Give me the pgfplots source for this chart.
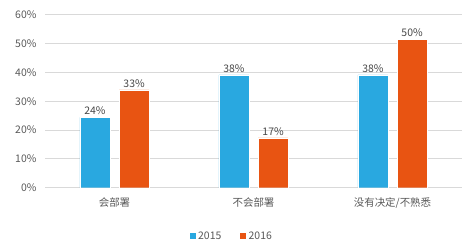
\documentclass[border=0pt]{standalone}
\usepackage{pgfplots}
\pgfplotsset{compat=1.18}
\usepackage{fontspec}
\setmainfont{Noto Sans CJK SC}
\definecolor{cblue}{HTML}{29A8E0}
\definecolor{corange}{HTML}{E85412}
\definecolor{gridc}{HTML}{D9D9D9}
\definecolor{txt}{HTML}{595959}
\begin{document}
\begin{tikzpicture}
\path[use as bounding box] (0bp,0bp) rectangle (467bp,248bp);
\begin{axis}[
  at={(45bp,60.3bp)}, anchor=south west,
  scale only axis, width=417bp, height=173bp,
  ybar, bar width=0.217,
  xmin=-0.5, xmax=2.5, ymin=0, ymax=60,
  xtick={0,1,2}, xticklabels={会部署,不会部署,没有决定/不熟悉},
  ytick={0,10,...,60},
  yticklabel={\pgfmathprintnumber{\tick}\%},
  /pgf/number format/assume math mode=true,
  ymajorgrids, grid style={gridc, line width=0.8pt},
  axis x line*=bottom, axis y line*=left,
  y axis line style={draw=none},
  x axis line style={draw=gridc, line width=0.8pt},
  major tick length=0pt,
  tick label style={font=\fontsize{10.5}{12}\selectfont, text=txt},
  yticklabel style={xshift=-5bp},
  xticklabel style={yshift=-6bp},
  point meta=explicit,
  nodes near coords={\pgfmathprintnumber{\pgfplotspointmeta}\%},
  every node near coord/.append style={font=\fontsize{10.5}{12}\selectfont, text=txt!80!black, yshift=-1bp},
  legend style={at={(0.447,-0.279)}, anchor=center, draw=none, legend columns=2,
    font=\fontsize{10.5}{12}\selectfont, text=txt,
    /tikz/every even column/.append style={column sep=16bp}},
  legend image code/.code={\fill[#1] (0bp,-3.5bp) rectangle (7bp,3.5bp);},
]
\addplot[fill=cblue, draw=white, line width=0.3pt, bar shift=-0.141] coordinates {(0,24.4) [24] (1,39.1) [38] (2,39.1) [38]};
\addplot[fill=corange, draw=white, line width=0.3pt, bar shift=0.141] coordinates {(0,33.9) [33] (1,17.3) [17] (2,51.5) [50]};
\legend{2015,2016}
\end{axis}
\end{tikzpicture}
\end{document}
